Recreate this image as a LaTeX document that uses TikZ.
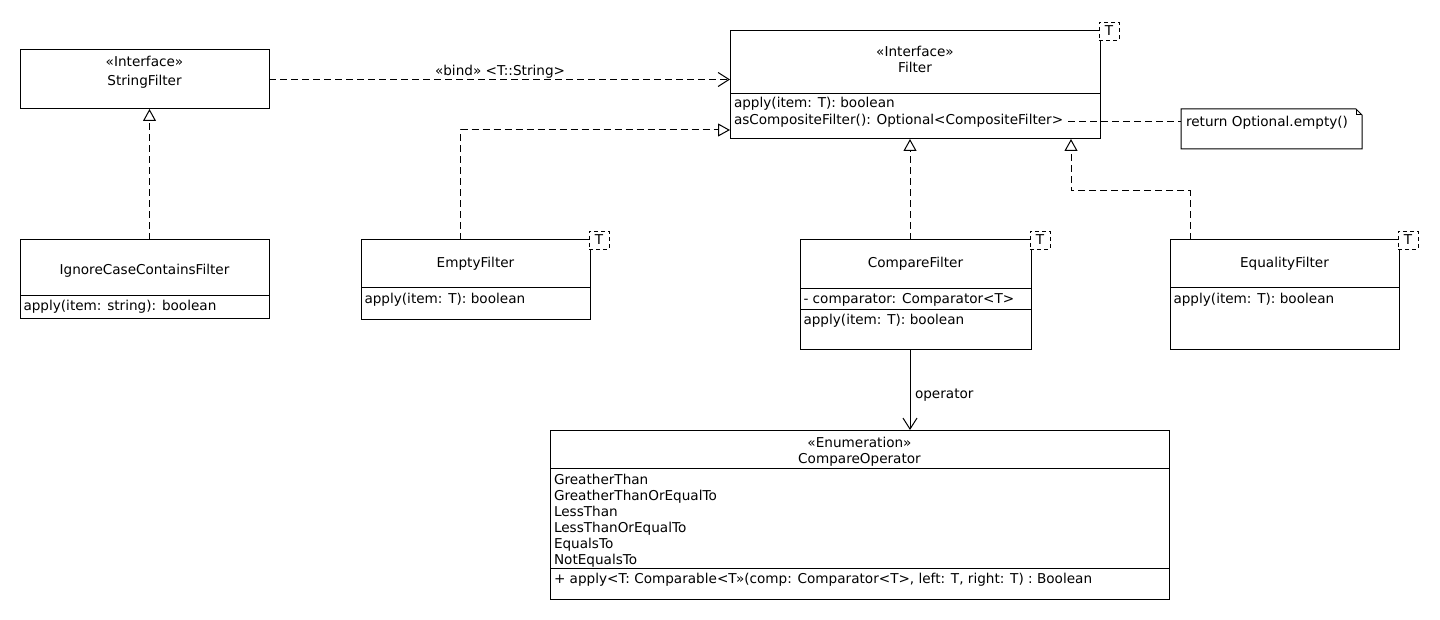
\documentclass[tikz,border=0pt]{standalone}
\usepackage{fontspec}
\setmainfont{DejaVu Sans}
\usetikzlibrary{arrows.meta,calc}
\begin{document}
\begin{tikzpicture}[x=1pt,y=-1pt,
  every node/.style={font=\fontsize{13.6}{16}\selectfont, inner sep=0pt, outer sep=0pt},
  cls/.style={draw, line width=1pt, rectangle, anchor=north west},
  tparam/.style={draw, line width=0.9pt, dash pattern=on 4pt off 3pt, fill=white,
                 minimum width=20pt, minimum height=18pt},
  rel/.style={line width=1pt, dash pattern=on 7pt off 4pt},
  realize/.style={rel, -{Triangle[open, length=12pt, width=13pt, line width=1pt]}},
  dep/.style={rel, -{Straight Barb[length=11pt, width=14pt, line width=1pt]}},
  assoc/.style={line width=1pt, -{Straight Barb[length=11pt, width=14pt, line width=1pt]}},
  sep/.style={line width=1pt},
  ctext/.style={anchor=base},
  ltext/.style={anchor=base west}]
\useasboundingbox (0,0) rectangle (1440,620);

% ---------- classes ----------
\node[cls, minimum width=249pt, minimum height=59pt]  (sf)     at (20,50)   {};
\node[cls, minimum width=249pt, minimum height=78pt]  (icf)    at (20,240)  {};
\node[cls, minimum width=370pt, minimum height=108pt] (filter) at (730,31)  {};
\node[cls, minimum width=229pt, minimum height=79pt]  (ef)     at (361,240) {};
\node[cls, minimum width=231pt, minimum height=109pt] (cf)     at (800,240) {};
\node[cls, minimum width=229pt, minimum height=109pt] (eqf)    at (1170,240) {};
\node[cls, minimum width=619pt, minimum height=169pt] (cop)    at (550,430) {};

% compartment separators
\draw[sep] ($(icf.north west)+(0,56)$)    -- ($(icf.north east)+(0,56)$);
\draw[sep] ($(filter.north west)+(0,63)$) -- ($(filter.north east)+(0,63)$);
\draw[sep] ($(ef.north west)+(0,48)$)     -- ($(ef.north east)+(0,48)$);
\draw[sep] ($(cf.north west)+(0,49)$)     -- ($(cf.north east)+(0,49)$);
\draw[sep] ($(cf.north west)+(0,69)$)     -- ($(cf.north east)+(0,69)$);
\draw[sep] ($(eqf.north west)+(0,48)$)    -- ($(eqf.north east)+(0,48)$);
\draw[sep] ($(cop.north west)+(0,38)$)    -- ($(cop.north east)+(0,38)$);
\draw[sep] ($(cop.north west)+(0,138)$)   -- ($(cop.north east)+(0,138)$);

% template parameters
\node[tparam] (filterT) at ($(filter.north east)+(9,0)$) {T};
\node[tparam] (efT)     at ($(ef.north east)+(9,0)$)     {T};
\node[tparam] (cfT)     at ($(cf.north east)+(9,0)$)     {T};
\node[tparam] (eqfT)    at ($(eqf.north east)+(9,0)$)    {T};

% ---------- texts ----------
\node[ctext] (sfS)  at (144.5,67)  {«Interface»};
\node[ctext] (sfN)  at (144.5,86)  {StringFilter};

\node[ctext] (icfN) at (144.5,275) {IgnoreCaseContainsFilter};
\node[ltext] (icfM) at (23.5,310)  {apply(item: string): boolean};

\node[ctext] (fS)   at (915,57)    {«Interface»};
\node[ctext] (fN)   at (915,73)    {Filter};
\node[ltext] (fM1)  at (734,108)   {apply(item: T): boolean};
\node[ltext] (fM2)  at (734,125)   {asCompositeFilter(): Optional<CompositeFilter>};

\node[ctext] (efN)  at (475.5,268) {EmptyFilter};
\node[ltext] (efM)  at (364.5,303) {apply(item: T): boolean};

\node[ctext] (cfN)  at (915.5,268) {CompareFilter};
\node[ltext] (cfA)  at (803.5,303) {- comparator: Comparator<T>};
\node[ltext] (cfM)  at (803.5,324) {apply(item: T): boolean};

\node[ctext] (eqN)  at (1284.5,268) {EqualityFilter};
\node[ltext] (eqM)  at (1173.5,303) {apply(item: T): boolean};

\node[ctext] (copS) at (859.5,447) {«Enumeration»};
\node[ctext] (copN) at (859.5,463) {CompareOperator};
\node[ltext] (copL1) at (554,484) {GreatherThan};
\node[ltext] (copL2) at (554,500) {GreatherThanOrEqualTo};
\node[ltext] (copL3) at (554,516) {LessThan};
\node[ltext] (copL4) at (554,532) {LessThanOrEqualTo};
\node[ltext] (copL5) at (554,548) {EqualsTo};
\node[ltext] (copL6) at (554,564) {NotEqualsTo};
\node[ltext] (copM)  at (554,583) {+ apply<T: Comparable<T»(comp: Comparator<T>, left: T, right: T) : Boolean};

% ---------- note ----------
\node[minimum width=181pt, minimum height=40pt, anchor=north west] (note) at (1181,109) {};
\draw[line width=1pt] (note.north west) -- ($(note.north east)+(-6,0)$) -- ($(note.north east)+(0,6)$)
      -- (note.south east) -- (note.south west) -- cycle;
\draw[line width=1pt] ($(note.north east)+(-6,0)$) -- ($(note.north east)+(-6,6)$) -- ($(note.north east)+(0,6)$);
\node[ltext] (noteT) at (1186,127) {return Optional.empty()};

% ---------- relationships ----------
\draw[dep] (sf.east) -- (sf.east -| filter.west);
\node[ctext] (bindL) at (500,76) {«bind» <T::String>};

\draw[realize] ([xshift=5pt]icf.north) -- ([xshift=5pt]sf.south);
\draw[realize] ([xshift=-15pt]ef.north) |- ([yshift=-45pt]filter.west);
\draw[realize] ([xshift=-5.5pt]cf.north) -- ([xshift=-5.5pt]cf.north |- filter.south);
\coordinate (eqbend) at (1071,191);
\draw[realize] ([xshift=-94.5pt]eqf.north) |- (eqbend) -- (eqbend |- filter.south);

\draw[assoc] ([xshift=-5.5pt]cf.south) -- ([xshift=-5.5pt]cf.south |- cop.north);
\node[ltext] (opL) at (915,398) {operator};

\coordinate (fM2end) at (1068,122);
\draw[rel] (fM2end) -- (fM2end -| note.west);
\end{tikzpicture}
\end{document}
